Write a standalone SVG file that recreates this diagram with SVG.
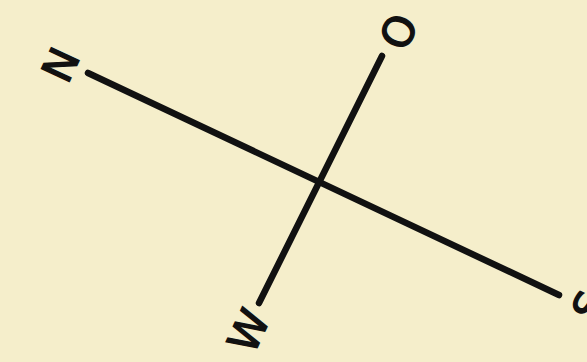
<svg xmlns="http://www.w3.org/2000/svg" width="587" height="362" viewBox="0 0 587 362">
<style>
.lbl{font-family:"DejaVu Sans","Liberation Sans",sans-serif;font-size:42px;fill:#111;stroke:#111;stroke-width:1.4;text-anchor:middle;dominant-baseline:central}
.ax{stroke:#111;stroke-width:6.5;stroke-linecap:round;fill:none}
</style>
<rect width="587" height="362" fill="#f5eecb"/>
<g id="connectors">
<line class="ax" x1="88" y1="73" x2="559" y2="295"/>
<line class="ax" x1="382" y1="56" x2="259" y2="303"/>
</g>
<g id="N"><text class="lbl" transform="translate(61,65) rotate(-65)">N</text></g>
<g id="O"><text class="lbl" transform="translate(399,32) rotate(-65)">O</text></g>
<g id="W"><text class="lbl" transform="translate(249,331) rotate(-65)">W</text></g>
<g id="S"><text class="lbl" transform="translate(590,306) rotate(-65)">S</text></g>
</svg>
